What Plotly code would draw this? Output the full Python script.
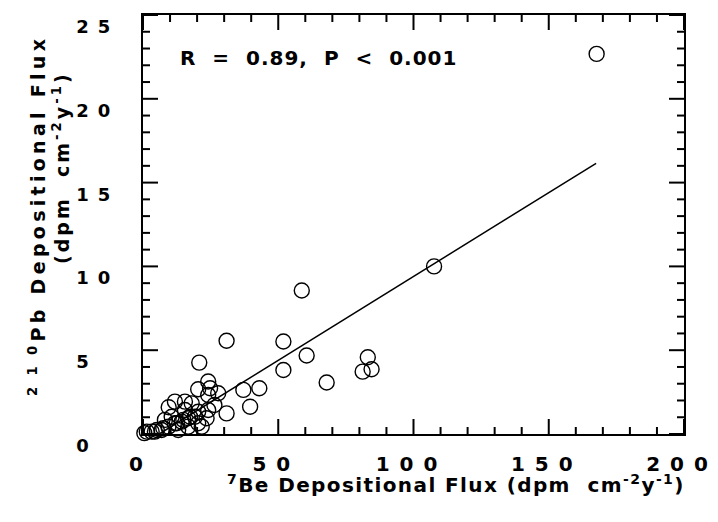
import plotly.graph_objects as go

FONT = "DejaVu Sans"

# 7Be depositional flux (x) and 210Pb depositional flux (y), dpm cm-2 y-1
be7 = [167.7, 107.6, 58.7, 60.5, 67.9, 83.1, 81.2, 84.5, 30.9, 51.9,
       20.8, 51.9, 24.1, 20.4, 37.1, 43.0, 39.6, 27.8, 24.1, 30.9,
       26.4, 23.5, 21.7, 11.8, 15.5, 18.0, 9.5, 15.5, 20.4, 16.7,
       19.2, 24.1, 6.9, 4.4, 9.4, 11.8, 14.3, 10.6, 8.1, 13.0,
       16.7, 20.4, 0.5, 1.4, 3.2, 5.1, 7.5, 12.5, 14.9, 17.4, 24.8]
pb210 = [22.68, 10.0, 8.56, 4.68, 3.07, 4.58, 3.72, 3.86, 5.56, 5.52,
         4.26, 3.82, 3.13, 2.67, 2.63, 2.73, 1.63, 2.43, 2.33, 1.23,
         1.73, 0.94, 0.44, 1.93, 1.93, 1.83, 1.6, 1.43, 1.33, 0.94,
         1.03, 1.43, 0.24, 0.14, 0.44, 0.64, 0.74, 1.03, 0.84, 0.24,
         0.44, 0.64, 0.05, 0.14, 0.14, 0.24, 0.34, 0.64, 0.84, 1.03, 2.73]

# regression line
fit_slope = 0.1
fit_intercept = -0.6
fit_x = [6.0, 167.5]
fit_y = [fit_slope * v + fit_intercept for v in fit_x]

x_range = [0, 200]
y_range = [0, 25]
x_tickvals = [0, 50, 100, 150, 200]
x_minor_vals = list(range(0, 201, 10))
x_ticktext = ["0\u2007", "5\u20020\u2007", "1\u20020\u20020\u2007", "1\u20025\u20020\u2007", "2\u20020\u20020\u2007"]
y_tickvals = [0, 5, 10, 15, 20, 25]
y_minor_vals = list(range(0, 26, 1))
y_ticktext = ["\u00a0<br>0\u2002\u2007", "\u00a0<br>5\u2002\u2007", "\u00a0<br>1\u20020",
              "\u00a0<br>1\u20025", "\u00a0<br>2\u20020", "\u00a0<br>2\u20025"]

stat_text = "R\u00a0\u00a0=\u00a0\u00a00.89,\u00a0\u00a0P\u00a0\u00a0<\u00a0\u00a00.001"
x_title = "<sup>7</sup>Be Depositional Flux (dpm\u00a0\u00a0cm<sup>-2</sup>y<sup>-1</sup>)"
y_title1 = "<sup>2\u20091\u20090</sup>Pb Depositional Flux"
y_title2 = "(dpm\u00a0\u00a0cm<sup>-2</sup>y<sup>-1</sup>)"


def spaced(t, ls):
    return '<span style="letter-spacing:%spx">%s</span>' % (ls, t)


W, H = 718, 522
L, R, T, B = 143, 34, 15, 88
pw, ph = W - L - R, H - T - B
MAJOR_LEN, MINOR_LEN = 15, 7  # tick lengths in pixels


def px(xp):
    return (xp - L) / pw


def py(yp):
    return (H - B - yp) / ph


# inside tick marks on all four sides, converted from pixel length to axis units
xspan = x_range[1] - x_range[0]
yspan = y_range[1] - y_range[0]
tx, ty = [], []
for v in x_minor_vals:
    ln = (MAJOR_LEN if v in x_tickvals else MINOR_LEN) / ph * yspan
    tx += [v, v, None, v, v, None]
    ty += [y_range[0], y_range[0] + ln, None, y_range[1], y_range[1] - ln, None]
for v in y_minor_vals:
    ln = (MAJOR_LEN if v in y_tickvals else MINOR_LEN) / pw * xspan
    tx += [x_range[0], x_range[0] + ln, None, x_range[1], x_range[1] - ln, None]
    ty += [v, v, None, v, v, None]

fig = go.Figure()
fig.add_trace(go.Scatter(
    x=tx, y=ty, mode="lines", line=dict(color="black", width=2),
    cliponaxis=False, showlegend=False, hoverinfo="skip", connectgaps=False))
fig.add_trace(go.Scatter(
    x=be7, y=pb210, mode="markers",
    marker=dict(symbol="circle-open", size=15, color="black", line=dict(width=1.4)),
    cliponaxis=False, showlegend=False, hoverinfo="skip"))
fig.add_trace(go.Scatter(
    x=fit_x, y=fit_y, mode="lines",
    line=dict(color="black", width=1.5), showlegend=False))
# empty trace so the label overlay axes exist
fig.add_trace(go.Scatter(x=[], y=[], xaxis="x2", yaxis="y2", showlegend=False))

frame_axis = dict(showline=True, linecolor="black", linewidth=2, mirror=True, ticks="",
                  showgrid=False, zeroline=False, showticklabels=False, automargin=False)
label_axis = dict(
    showline=False, showgrid=False, zeroline=False, ticks="outside", automargin=False,
    tickcolor="rgba(0,0,0,0)", tickwidth=1, ticklabeloverflow="allow",
)

annot_font = dict(family=FONT, size=20, color="black", weight="bold")
ytitle_font = dict(family=FONT, size=19, color="black", weight="bold")
fig.update_layout(
    width=W, height=H, autosize=False,
    margin=dict(l=L, r=R, t=T, b=B, pad=0),
    plot_bgcolor="white", paper_bgcolor="white",
    font=dict(family=FONT, color="black"),
    xaxis=dict(range=x_range, **frame_axis),
    yaxis=dict(range=y_range, **frame_axis),
    xaxis2=dict(overlaying="x", anchor="y", side="bottom", range=x_range,
                tickvals=x_tickvals, ticktext=x_ticktext, ticklen=12,
                tickfont=dict(family=FONT, size=20, color="black", weight="bold"),
                **label_axis),
    yaxis2=dict(overlaying="y", anchor="x", side="left", range=y_range,
                tickvals=y_tickvals, ticktext=y_ticktext, ticklen=28,
                tickfont=dict(family=FONT, size=18, color="black", weight="bold"),
                **label_axis),
    annotations=[
        dict(text=spaced(stat_text, 1), x=px(318), y=py(58), xref="paper", yref="paper",
             xanchor="center", yanchor="middle", showarrow=False, font=annot_font),
        dict(text=spaced(x_title, 1.4), x=px(456), y=py(484), xref="paper", yref="paper",
             xanchor="center", yanchor="middle", showarrow=False, font=annot_font),
        dict(text=spaced(y_title1, 4.3), x=px(37), y=py(216), xref="paper", yref="paper",
             xanchor="center", yanchor="middle", showarrow=False, textangle=-90, font=ytitle_font),
        dict(text=spaced(y_title2, 3), x=px(61), y=py(168), xref="paper", yref="paper",
             xanchor="center", yanchor="middle", showarrow=False, textangle=-90, font=ytitle_font),
    ],
)

fig.write_html("out.html")
